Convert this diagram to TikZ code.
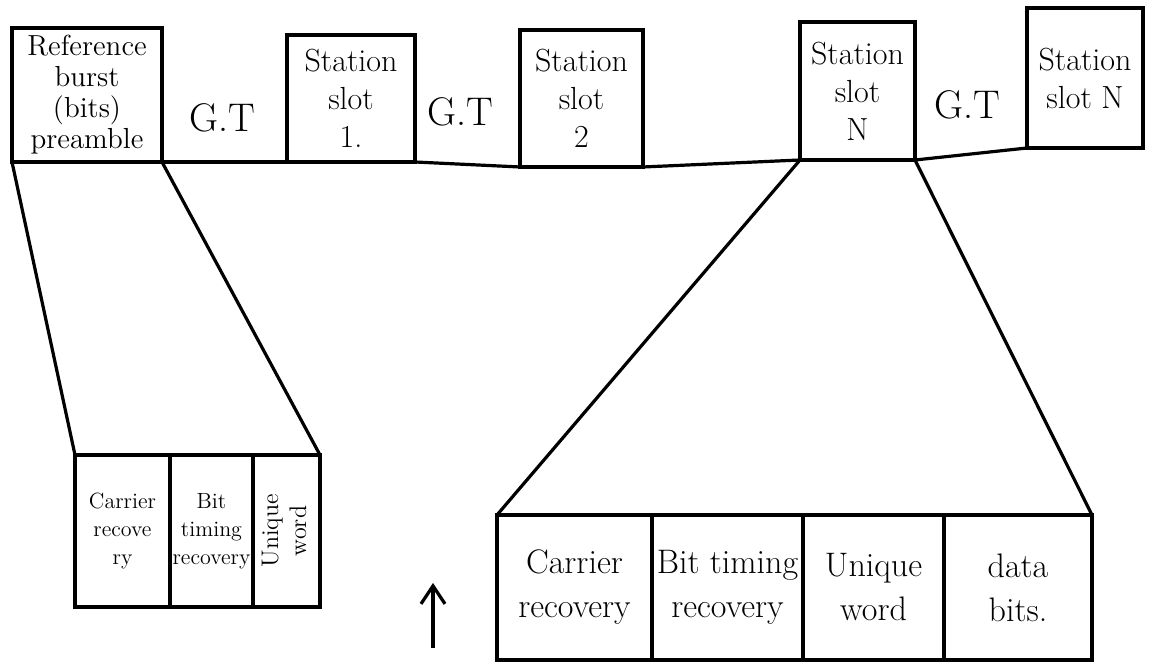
\documentclass[tikz,border=0pt]{standalone}
\usepackage{tikz}
\usetikzlibrary{%
arrows.meta,%
positioning}

\tikzset{
  slotbox/.style={draw,line width=1.6pt,anchor=north west,outer sep=0pt,
    align=center,inner sep=1pt,font=\fontsize{16}{19}\selectfont},
  gtlabel/.style={font=\fontsize{20}{22}\selectfont},
  smallcell/.style={draw,line width=1.6pt,outer sep=0pt,align=center,
    inner sep=1pt,minimum height=76pt,font=\fontsize{11}{14}\selectfont},
  bigcell/.style={draw,line width=1.6pt,outer sep=0pt,align=center,
    inner sep=2pt,minimum height=72.5pt,font=\fontsize{17}{22}\selectfont},
  funnel/.style={line width=1.6pt}
}

\begin{document}
\begin{tikzpicture}[x=0.5pt,y=-0.5pt]
\useasboundingbox (0,0) rectangle (1153,667);

% frame of slots
\node[slotbox,minimum width=75pt,minimum height=67pt,
  font=\fontsize{14.5}{15.5}\selectfont] (ref) at (12,28)
  {Reference\\burst\\(bits)\\preamble};
\node[slotbox,minimum width=64pt,minimum height=63.5pt] (s1) at (287,35)
  {Station\\slot\\1.};
\node[slotbox,minimum width=61.5pt,minimum height=68.5pt] (s2) at (520,30)
  {Station\\slot\\2};
\node[slotbox,minimum width=57.5pt,minimum height=69pt] (sN) at (800,22)
  {Station\\slot\\N};
\node[slotbox,minimum width=58pt,minimum height=70pt] (sLast) at (1027,8)
  {Station\\slot N};

\draw[funnel] (ref.south east) -- (s1.south west);
\draw[funnel] (s1.south east) -- (s2.south west);
\draw[funnel] (s2.south east) -- (sN.south west);
\draw[funnel] (sN.south east) -- (sLast.south west);

\node[gtlabel] (gt1) at (222,118) {G.T};
\node[gtlabel] (gt2) at (460,112) {G.T};
\node[gtlabel] (gt3) at (967,105) {G.T};

% reference burst fields
\node[smallcell,minimum width=47.5pt,anchor=north west] (lc1) at (75,455)
  {Carrier\\recove\\ry};
\node[smallcell,minimum width=41.5pt,right=0pt of lc1] (lc2)
  {Bit\\timing\\recovery};
\node[smallcell,minimum width=33.5pt,right=0pt of lc2,
  font=\fontsize{12}{14}\selectfont] (lc3)
  {\rotatebox{90}{\begin{tabular}{@{}c@{}}Unique\\word\end{tabular}}};

\draw[funnel] (ref.south west) -- (lc1.north west);
\draw[funnel] (ref.south east) -- (lc3.north east);

% station slot fields
\node[bigcell,minimum width=77.5pt,anchor=north west] (rc1) at (497,515)
  {Carrier\\recovery};
\node[bigcell,minimum width=75.5pt,right=0pt of rc1] (rc2)
  {Bit timing\\recovery};
\node[bigcell,minimum width=70.5pt,right=0pt of rc2] (rc3)
  {Unique\\word};
\node[bigcell,minimum width=74pt,right=0pt of rc3] (rc4)
  {data\\bits.};

\draw[funnel] (sN.south west) -- (rc1.north west);
\draw[funnel] (sN.south east) -- (rc4.north east);

% arrow
\coordinate (arrowtail) at (433,648);
\coordinate (arrowtip) at (433,583);
\draw[funnel,-{Straight Barb[length=9pt,width=12pt]}] (arrowtail) -- (arrowtip);
\end{tikzpicture}
\end{document}
